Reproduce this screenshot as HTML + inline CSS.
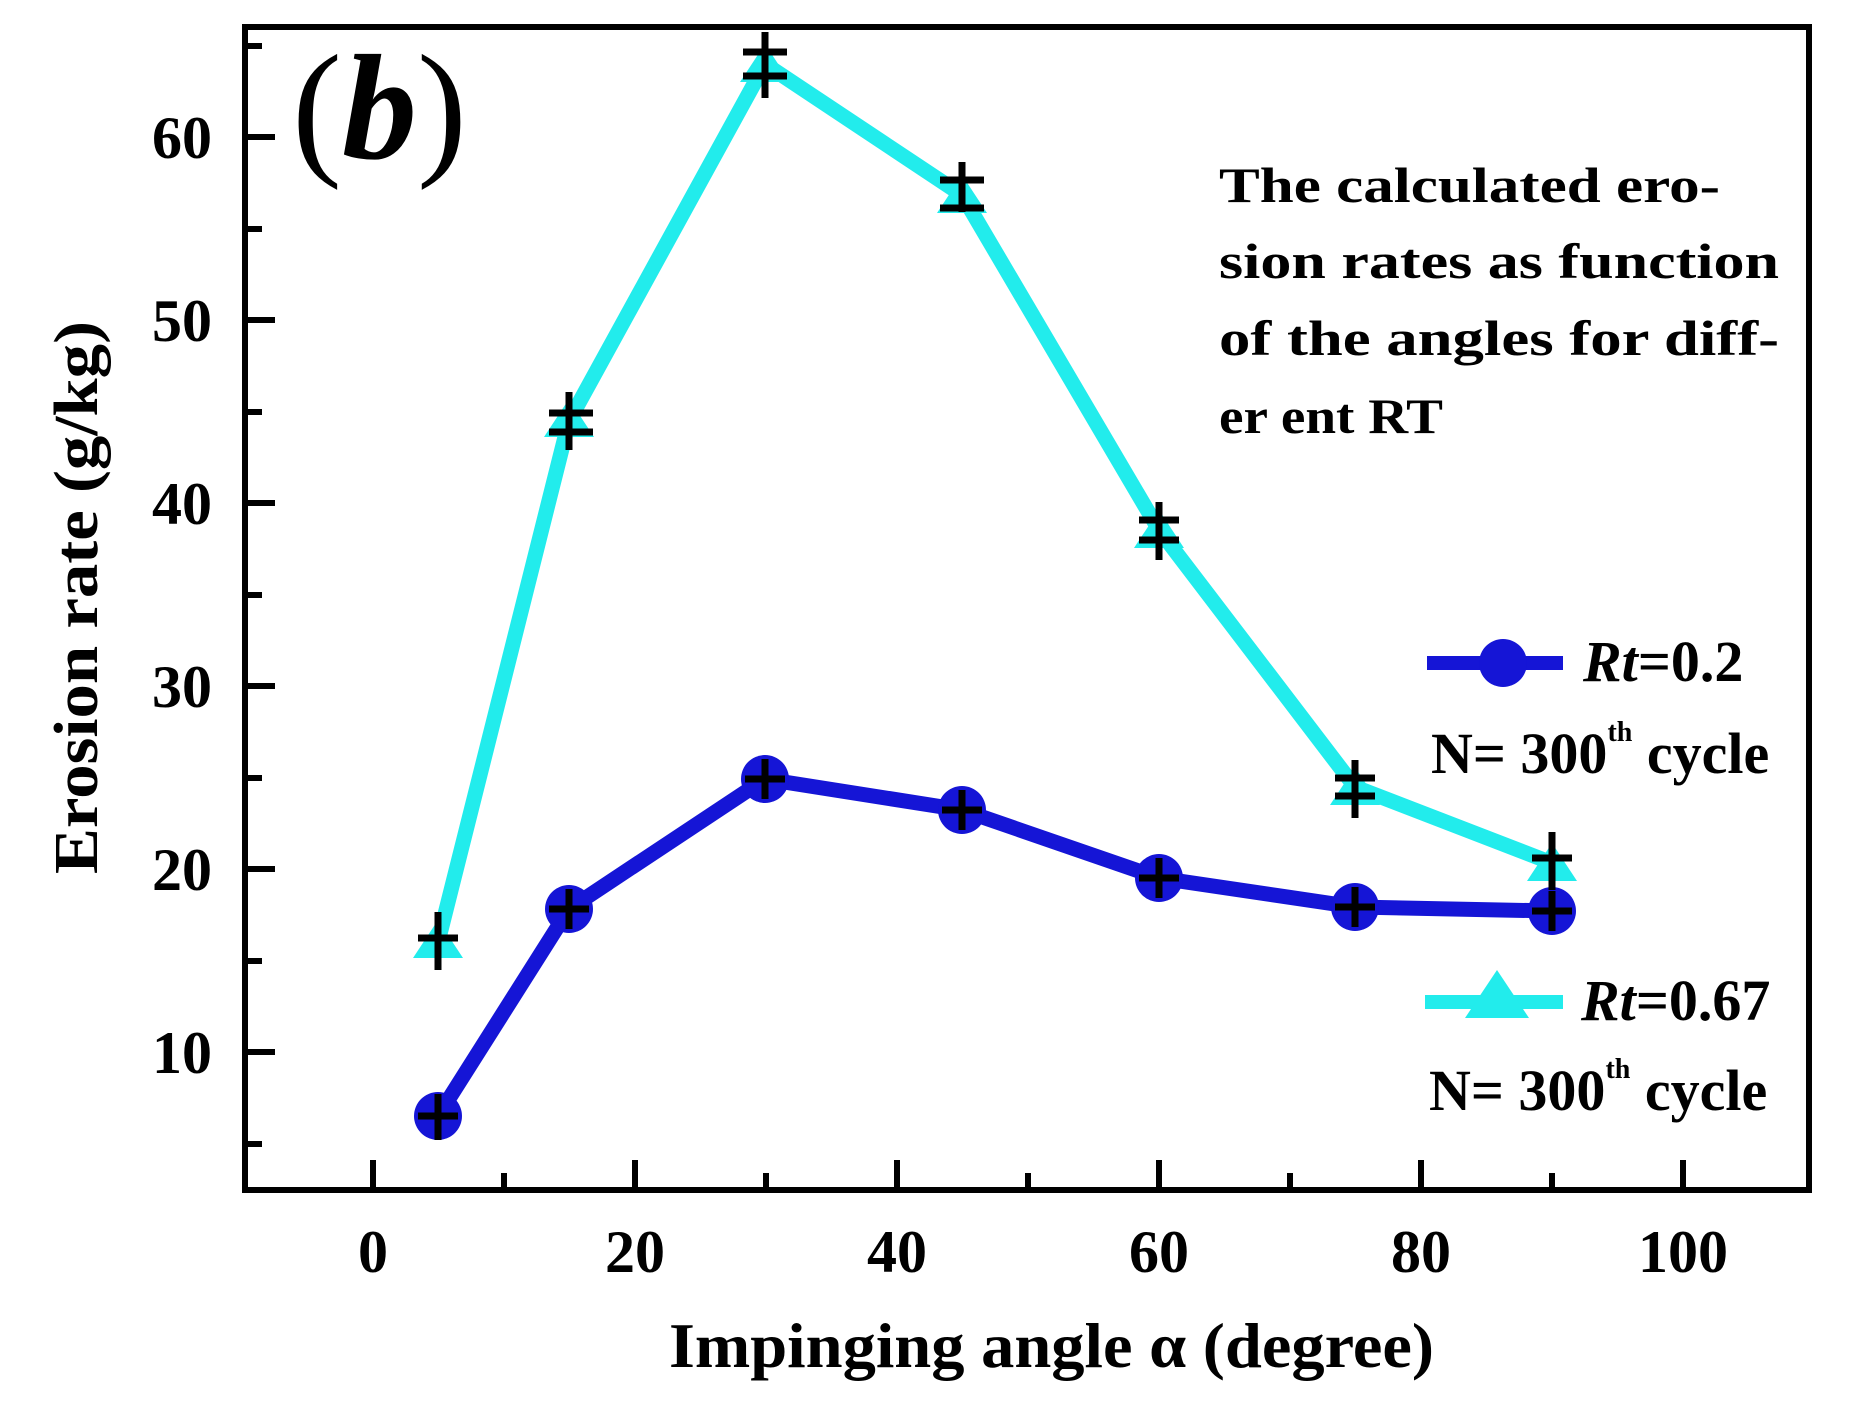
<!DOCTYPE html>
<html><head><meta charset="utf-8"><style>html,body{margin:0;padding:0;background:#fff}svg{display:block}</style></head>
<body>
<svg width="1855" height="1419" viewBox="0 0 1855 1419" xmlns="http://www.w3.org/2000/svg" font-family="Liberation Serif, serif" font-weight="bold">
<rect width="1855" height="1419" fill="#fff"/>
<rect x="245" y="27" width="1564" height="1163" fill="none" stroke="#000" stroke-width="6"/>
<g stroke="#000" stroke-width="6">
<line x1="245" y1="1052" x2="275" y2="1052"/>
<line x1="245" y1="869" x2="275" y2="869"/>
<line x1="245" y1="686" x2="275" y2="686"/>
<line x1="245" y1="503" x2="275" y2="503"/>
<line x1="245" y1="320" x2="275" y2="320"/>
<line x1="245" y1="137" x2="275" y2="137"/>
<line x1="245" y1="1144" x2="262" y2="1144"/>
<line x1="245" y1="961" x2="262" y2="961"/>
<line x1="245" y1="778" x2="262" y2="778"/>
<line x1="245" y1="595" x2="262" y2="595"/>
<line x1="245" y1="412" x2="262" y2="412"/>
<line x1="245" y1="229" x2="262" y2="229"/>
<line x1="245" y1="46" x2="262" y2="46"/>
<line x1="373" y1="1190" x2="373" y2="1160"/>
<line x1="635" y1="1190" x2="635" y2="1160"/>
<line x1="897" y1="1190" x2="897" y2="1160"/>
<line x1="1159" y1="1190" x2="1159" y2="1160"/>
<line x1="1421" y1="1190" x2="1421" y2="1160"/>
<line x1="1683" y1="1190" x2="1683" y2="1160"/>
<line x1="504" y1="1190" x2="504" y2="1173"/>
<line x1="766" y1="1190" x2="766" y2="1173"/>
<line x1="1028" y1="1190" x2="1028" y2="1173"/>
<line x1="1290" y1="1190" x2="1290" y2="1173"/>
<line x1="1552" y1="1190" x2="1552" y2="1173"/>
</g>
<g font-size="60" text-anchor="end">
<text x="212" y="1073">10</text>
<text x="212" y="890">20</text>
<text x="212" y="707">30</text>
<text x="212" y="524">40</text>
<text x="212" y="341">50</text>
<text x="212" y="158">60</text>
</g>
<g font-size="60" text-anchor="middle">
<text x="373" y="1272">0</text>
<text x="635" y="1272">20</text>
<text x="897" y="1272">40</text>
<text x="1159" y="1272">60</text>
<text x="1421" y="1272">80</text>
<text x="1683" y="1272">100</text>
</g>
<text x="669" y="1367" font-size="64" textLength="765" lengthAdjust="spacingAndGlyphs">Impinging angle α (degree)</text>
<text transform="translate(97,874) rotate(-90)" font-size="62" textLength="553" lengthAdjust="spacingAndGlyphs">Erosion rate (g/kg)</text>
<text x="292" y="158" font-size="150" font-weight="normal">(<tspan font-style="italic" font-weight="bold">b</tspan>)</text>
<g font-size="50">
<text x="1219" y="202" textLength="501" lengthAdjust="spacingAndGlyphs">The calculated ero-</text>
<text x="1219" y="278" textLength="560" lengthAdjust="spacingAndGlyphs">sion rates as function</text>
<text x="1219" y="355" textLength="560" lengthAdjust="spacingAndGlyphs">of the angles for diff-</text>
<text x="1219" y="433" textLength="224" lengthAdjust="spacingAndGlyphs">er ent RT</text>
</g>
<polyline fill="none" stroke="#22ecec" stroke-width="15" stroke-linejoin="round" points="438,942 569,421 765,64 962,195 1159,530 1355,787 1552,863"/>
<g fill="#22ecec">
<path d="M438,920 l25,38 h-50z"/>
<path d="M569,399 l25,38 h-50z"/>
<path d="M765,44 l25,38 h-50z"/>
<path d="M962,175 l25,38 h-50z"/>
<path d="M1159,510 l25,38 h-50z"/>
<path d="M1355,767 l25,38 h-50z"/>
<path d="M1552,843 l25,38 h-50z"/>
</g>
<polyline fill="none" stroke="#1515d6" stroke-width="15" stroke-linejoin="round" points="438,1116 569,909 765,779 962,810 1159,878 1355,907 1552,911"/>
<g fill="#1515d6">
<circle cx="438" cy="1116" r="24"/>
<circle cx="569" cy="909" r="24"/>
<circle cx="765" cy="779" r="24"/>
<circle cx="962" cy="810" r="24"/>
<circle cx="1159" cy="878" r="24"/>
<circle cx="1355" cy="907" r="24"/>
<circle cx="1552" cy="911" r="24"/>
</g>
<g stroke="#000" stroke-width="7">
<path d="M438,1094v46M418,1116h40"/>
<path d="M569,889v40M549,909h40"/>
<path d="M765,759v40M745,779h40"/>
<path d="M962,790v40M942,810h40"/>
<path d="M1159,858v40M1139,878h40"/>
<path d="M1355,887v40M1335,907h40"/>
<path d="M1552,891v40M1532,911h40"/>
<path d="M438,912v58M418,938h40"/>
<path d="M569,392v58M549,413h44M549,432h44"/>
<path d="M765,32v66M743,52h44M743,76h44"/>
<path d="M962,162v50M940,180h44M940,208h44"/>
<path d="M1159,502v58M1139,520h40M1139,540h40"/>
<path d="M1355,760v58M1335,778h40M1335,796h40"/>
<path d="M1552,832v58M1532,858h40"/>
</g>
<line x1="1427" y1="663" x2="1563" y2="663" stroke="#1515d6" stroke-width="14"/>
<circle cx="1503" cy="663" r="24" fill="#1515d6"/>
<text x="1583" y="681" font-size="58"><tspan font-style="italic">Rt</tspan>=0.2</text>
<text x="1431" y="773" font-size="58">N= 300<tspan font-size="28" dy="-32">th</tspan><tspan dy="32"> cycle</tspan></text>
<line x1="1425" y1="1002" x2="1563" y2="1002" stroke="#22ecec" stroke-width="14"/>
<path d="M1497,970 l32,48 h-64z" fill="#22ecec"/>
<text x="1581" y="1020" font-size="58"><tspan font-style="italic">Rt</tspan>=0.67</text>
<text x="1429" y="1110" font-size="58">N= 300<tspan font-size="28" dy="-32">th</tspan><tspan dy="32"> cycle</tspan></text>
</svg>
</body></html>
